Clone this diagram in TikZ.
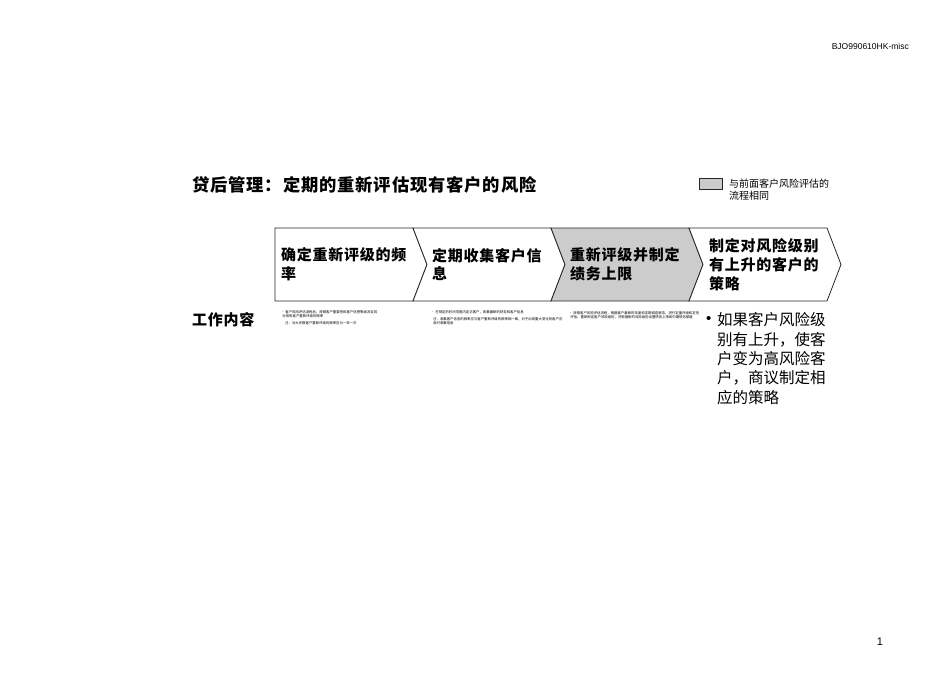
\documentclass[tikz,border=0pt]{standalone}
\usepackage{fontspec}
\setmainfont{Liberation Sans}
\newfontfamily\cjk{Noto Sans CJK SC}
\newfontfamily\cjkwide[LetterSpace=5]{Noto Sans CJK SC}
\usetikzlibrary{positioning}
\definecolor{boxgray}{RGB}{204,204,204}

\begin{document}
\begin{tikzpicture}[x=1pt,y=-1pt,
  every node/.style={inner sep=0pt},
  chev/.style={draw=black!85,line width=0.8pt},
  chevtext/.style={anchor=west,align=left,font=\cjkwide\bfseries\fontsize{15}{18.7}\selectfont},
  tinytext/.style={anchor=west,align=left,font=\cjk\fontsize{3.4}{4.2}\selectfont},
  bodytext/.style={anchor=west,align=left,font=\cjk\fontsize{15.5}{19.3}\selectfont}
]
\useasboundingbox (0,0) rectangle (950,673);

% header and page number
\node[anchor=east,font=\fontsize{8.5}{10}\selectfont] (hdr) at (909,46) {BJO990610HK-misc};
\node[font=\fontsize{11}{13}\selectfont] (pagenum) at (880,642) {1};

% title
\node[anchor=west,font=\cjkwide\bfseries\fontsize{17.3}{20}\selectfont] (title) at (192,185)
  {贷后管理：定期的重新评估现有客户的风险};

% legend
\draw[chev,fill=boxgray] (699,178) rectangle (722,189);
\node[anchor=north west,align=left,font=\cjk\fontsize{10}{12}\selectfont] (legend) at (729,178.5)
  {与前面客户风险评估的\\流程相同};

% the steps
\draw[chev,fill=white] (275,228) -- (413,228) -- (427,264.5) -- (413,301) -- (275,301) -- cycle;
\foreach \a/\b/\f in {413/551/white,551/689/boxgray,689/827/white}
  \draw[chev,fill=\f] (\a,228) -- (\b,228) -- (\b+14,264.5) -- (\b,301)
    -- (\a,301) -- (\a+14,264.5) -- cycle;

\node[chevtext] (s1) at (281,264.5) {确定重新评级的频\\率};
\node[chevtext] (s2) at (432,264.5) {定期收集客户信\\息};
\node[chevtext] (s3) at (570,264.5) {重新评级并制定\\绩务上限};
\node[chevtext] (s4) at (709,264.5) {制定对风险级别\\有上升的客户的\\策略};

% work content
\node[anchor=west,font=\cjkwide\bfseries\fontsize{15}{18}\selectfont] (work) at (192,320) {工作内容};

\node[tinytext] (t1a) at (281,314) {• 客户风险评估流程后，按照客户重要性和客户信誉等级决定其\\\hspace{1.2pt}对现有客户重新评级的频率};
\node[tinytext] (t1b) at (285,323.5) {注：对大多数客户重新评级的频率应为一年一次};

\node[tinytext] (t2a) at (431,312) {• 在规定的时间范围内走访客户，收集最新的财务和客户信息};
\node[tinytext] (t2b) at (433,321) {注：收集客户信息的频率应与客户重新评级的频率相一致，对于出现重大变化的客户应\\及时收集信息};

\node[tinytext] (t3a) at (569,315) {• 按照客户风险评估流程，根据客户最新的年度和定期调查报告，进行定量评级和定性\\\hspace{1.2pt}评估，重新制定客户风险级别，并根据新的风险级别设置债务上限和中期债务额度};

\node[anchor=west,font=\fontsize{15}{18}\selectfont] (dot4) at (706,320) {•};
\node[bodytext] (t4) at (717,358.5) {如果客户风险级\\别有上升，使客\\户变为高风险客\\户，商议制定相\\应的策略};

\end{tikzpicture}
\end{document}
